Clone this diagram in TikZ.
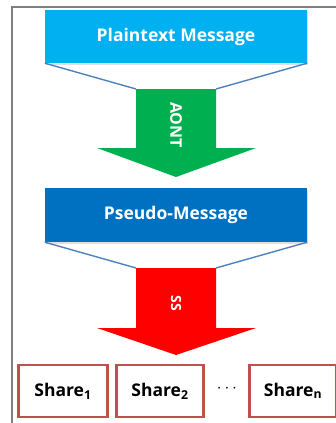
\documentclass[tikz,border=0pt]{standalone}
\usepackage{fontspec}
\setmainfont{Open Sans}
\usetikzlibrary{shadows}
\definecolor{plainblue}{HTML}{00B0F0}
\definecolor{pseudoblue}{HTML}{0070C0}
\definecolor{aontgreen}{HTML}{00B050}
\definecolor{ssred}{HTML}{FF0000}
\definecolor{linkblue}{HTML}{4F81BD}
\definecolor{sharered}{HTML}{C0504D}
\definecolor{framegray}{HTML}{7F7F7F}
\begin{document}
\begin{tikzpicture}[x=1pt,y=-1pt,
  msgbox/.style={rectangle, minimum width=262pt, minimum height=53pt, inner sep=0pt,
    text=white, font=\bfseries\fontsize{17.5}{20}\selectfont,
    drop shadow={shadow xshift=1.2pt, shadow yshift=-1.5pt, opacity=0.25}},
  sharebox/.style={rectangle, draw=sharered, line width=2.4pt, minimum height=52pt,
    inner sep=0pt, fill=white, text=black, font=\bfseries\fontsize{17.5}{20}\selectfont},
  link/.style={draw=linkblue, line width=1.4pt},
  arrowlabel/.style={text=white, font=\bfseries\fontsize{16}{18}\selectfont, rotate=-90, inner sep=0pt}
]
\useasboundingbox (0,0) rectangle (336,423);
\clip (0,0) rectangle (336,423);
\fill[white] (0,0) rectangle (336,423);
% frame
\draw[framegray, line width=1.4pt] (12,430) -- (12,7) -- (345,7);

% boxes
\node[msgbox, fill=plainblue] (plain) at (176,36.5) {Plaintext Message};
\node[msgbox, fill=pseudoblue, minimum height=54pt] (pseudo) at (176,215) {Pseudo-Message};

% arrow 1 (AONT)
\coordinate (a1l) at (136,89);
\coordinate (a1r) at (216,89);
\fill[aontgreen] (a1l) -- (136,148) -- (97,148) -- (176,177) -- (256,148) -- (216,148) -- (a1r) -- cycle;
\node[arrowlabel] (aont) at (176,125) {AONT};
\draw[link] (plain.south west) -- (a1l);
\draw[link] (plain.south east) -- (a1r);

% arrow 2 (SS)
\coordinate (a2l) at (136,268);
\coordinate (a2r) at (216,268);
\fill[ssred] (a2l) -- (136,328) -- (97,328) -- (176,355) -- (256,328) -- (216,328) -- (a2r) -- cycle;
\node[arrowlabel, font=\bfseries\fontsize{14}{16}\selectfont] (ss) at (176,303) {SS};
\draw[link] (pseudo.south west) -- (a2l);
\draw[link] (pseudo.south east) -- (a2r);

% shares
\node[sharebox, minimum width=89pt] (s1) at (63,391) {Share\textsubscript{1}};
\node[sharebox, minimum width=87pt] (s2) at (160,391) {Share\textsubscript{2}};
\node[inner sep=0pt, font=\fontsize{16}{18}\selectfont] (dots) at (227,389) {$\cdots$};
\node[sharebox, minimum width=87pt] (sn) at (293,391) {Share\textsubscript{n}};
\end{tikzpicture}
\end{document}
